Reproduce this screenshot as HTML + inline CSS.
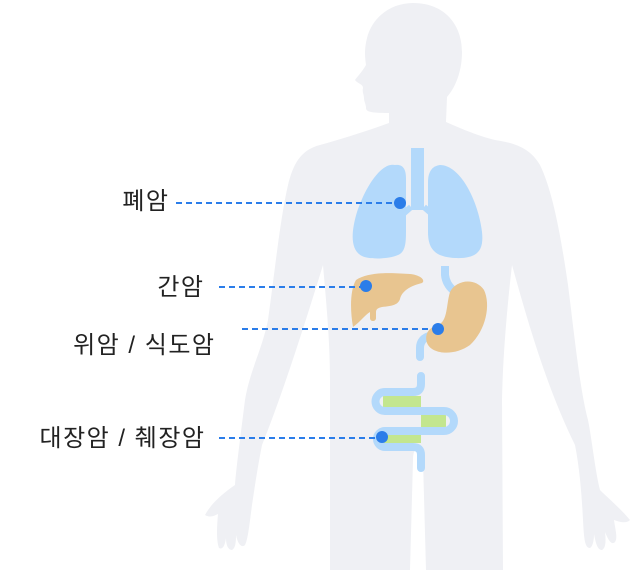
<!DOCTYPE html>
<html><head><meta charset="utf-8"><style>
html,body{margin:0;padding:0;background:#fff;}
svg{display:block}
text{font-family:"Liberation Sans","Noto Sans CJK KR",sans-serif;font-size:24px;fill:#222;letter-spacing:1.5px;}
</style></head><body>
<svg width="640" height="570" viewBox="0 0 640 570" xmlns="http://www.w3.org/2000/svg">
<path fill="#eff0f4" d="M413,3 C390,3 372,18 367,38 C364,50 365,58 366,65 C362,72 357,77 355,80 C358,84 363,84 363,88 C362,92 364,95 364,98 C364,102 366,104 366,108 C366,112 372,113 389,113 L389,123 C370,130 345,138 320,145 C300,150 293,165 288,185 C280,220 275,270 268,320 C262,350 250,370 245,400 C240,440 236,470 235,485 C225,492 212,502 205,515 C210,518 214,516 218,514 C217,525 216,540 219,548 C223,550 225,545 226,538 C226,545 228,550 232,550 C236,548 236,540 236,535 C238,545 242,548 245,545 C248,540 250,520 252,505 C255,485 258,465 262,445 C280,400 300,340 323,265 C326,300 330,340 330,380 L330,570 L410,570 L413,460 C413,452 415,448 418,448 C421,448 423,452 423,460 L426,570 L503,570 L502,400 C503,350 508,300 512,265 C530,330 548,390 575,445 C580,470 582,500 583,520 C584,540 585,548 590,548 C593,546 594,540 594,534 C596,545 598,550 602,550 C606,548 606,540 605,532 C609,542 612,545 615,542 C618,538 615,528 614,520 C620,522 626,524 630,520 C620,508 608,498 600,490 C595,470 592,440 588,420 C580,390 575,340 568,285 C560,230 552,190 540,165 C530,148 515,143 495,140 C475,135 460,128 446,122 L447,97 C455,88 462,72 462,52 C462,25 445,3 413,3 Z"/>
<rect x="411" y="148" width="13" height="62" fill="#b3d9fb"/>
<path d="M411,207 L403,214 M424,207 L432,214" stroke="#b3d9fb" stroke-width="6" fill="none"/>
<path fill="#b3d9fb" d="M395,165 C382,162 366,185 357,212 C351,232 350,250 362,256 C370,260 392,259 400,254 C406,250 406,240 406,230 L406,178 C406,168 402,164 395,165 Z"/>
<path fill="#b3d9fb" d="M440,165 C432,166 428,172 428,182 L428,232 C428,248 434,257 455,258 C478,259 484,250 482,232 C478,200 460,165 440,165 Z"/>
<path fill="#e8c590" d="M356,280 C370,271 395,273 410,274 C420,275 426,280 422,283 C410,286 402,291 400,299 C398,305 392,306 382,307 C378,308 376,309 376,312 L376,318 C376,322 370,322 370,318 L370,312 C365,315 360,322 353,327 C350,310 350,290 356,280 Z"/>
<path d="M445,266 L445,275 Q446,284 453,290" stroke="#b3d9fb" stroke-width="8" fill="none"/>
<path d="M432,335 Q420,338 420,348 L420,357" stroke="#b3d9fb" stroke-width="8" fill="none" stroke-linecap="round"/>
<path fill="#e8c590" d="M450,292 C456,280 475,277 484,290 C491,305 486,330 470,345 C455,356 432,355 427,343 C424,333 430,327 438,325 C448,321 446,305 450,292 Z"/>
<rect x="383" y="396" width="38" height="11" fill="#c3e68f"/>
<rect x="421" y="415" width="25" height="12" fill="#c3e68f"/>
<rect x="383" y="435" width="38" height="8" fill="#c3e68f"/>
<path d="M421,376 L421,384 Q421,392 413,392 L385,392 A9.5,9.5 0 0 0 385,411 L444,411 A10,10 0 0 1 444,431 L385,431 A8,8 0 0 0 385,447 L413,447 Q421,447 421,455 L421,468" stroke="#b3d9fb" stroke-width="8" fill="none" stroke-linecap="round"/>
<g stroke="#2b7de9" stroke-width="2" stroke-dasharray="6,4" fill="none">
<path d="M176,203 L396,203"/>
<path d="M219,287 L362,287"/>
<path d="M242,329 L434,329"/>
<path d="M219,438 L378,438"/>
</g>
<g fill="#2b7de9">
<circle cx="400" cy="203" r="6"/>
<circle cx="366" cy="286" r="6"/>
<circle cx="438" cy="329" r="6"/>
<circle cx="382" cy="437" r="6"/>
</g>
<text x="169.5" y="209" text-anchor="end">폐암</text>
<text x="204.5" y="295" text-anchor="end">간암</text>
<text x="215.5" y="353" text-anchor="end">위암 / 식도암</text>
<text x="205.5" y="446" text-anchor="end">대장암 / 췌장암</text>
</svg>
</body></html>
